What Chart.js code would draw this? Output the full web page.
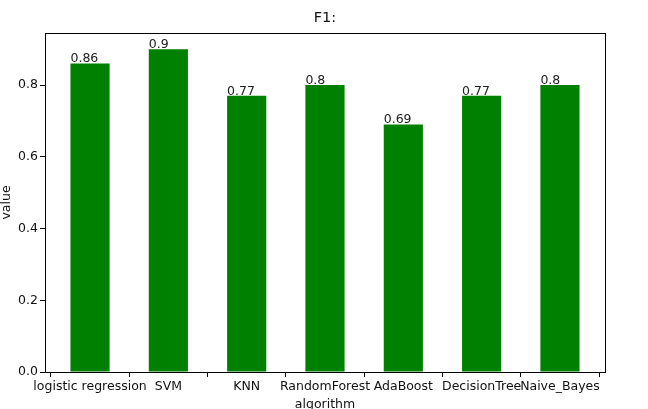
<!DOCTYPE html>
<html>
<head>
<meta charset="utf-8">
<script src="https://cdn.jsdelivr.net/npm/chart.js@4"></script>
<style>
  html, body { margin: 0; padding: 0; background: #fff; }
  #wrap { width: 648px; height: 409px; }
</style>
</head>
<body>
<div id="wrap"><canvas id="f1Chart"></canvas></div>
<script>
// Data
const algorithms = ['logistic regression', 'SVM', 'KNN', 'RandomForest', 'AdaBoost', 'DecisionTree', 'Naive_Bayes'];
const f1Scores = [0.86, 0.9, 0.77, 0.8, 0.69, 0.77, 0.8];
const yTicks = [0.0, 0.2, 0.4, 0.6, 0.8];

Chart.defaults.font.family = "'DejaVu Sans', sans-serif";
Chart.defaults.font.size = 12.5;
Chart.defaults.color = '#111';

// box around plot, value labels above bars, title and axis labels
const extras = {
  id: 'extras',
  afterDraw(chart) {
    const { ctx, chartArea: a, scales: { x, y } } = chart;
    ctx.save();
    ctx.font = "12.5px 'DejaVu Sans', sans-serif";
    ctx.fillStyle = '#222';
    ctx.textAlign = 'left';
    ctx.textBaseline = 'alphabetic';
    f1Scores.forEach((v, i) => {
      ctx.fillText(String(v), x.getPixelForValue(i - 0.25), y.getPixelForValue(v) - 1);
    });

    const L = Math.round(a.left), T = Math.round(a.top);
    const R = Math.round(a.right), B = Math.round(a.bottom);
    ctx.strokeStyle = '#000';
    ctx.lineWidth = 1;
    ctx.strokeRect(L + 0.5, T + 0.5, R - L, B - T);

    ctx.fillStyle = '#111';
    ctx.textAlign = 'center';
    ctx.textBaseline = 'middle';
    const cx = (a.left + a.right) / 2;
    ctx.font = "14.5px 'DejaVu Sans', sans-serif";
    ctx.fillText('F1:', cx, 18);
    ctx.font = "12.5px 'DejaVu Sans', sans-serif";
    ctx.fillText('algorithm', cx, 405);
    ctx.translate(7, (a.top + a.bottom) / 2);
    ctx.rotate(-Math.PI / 2);
    ctx.fillText('value', 0, 0);
    ctx.restore();
  }
};

new Chart(document.getElementById('f1Chart'), {
  type: 'bar',
  data: {
    datasets: [{
      label: 'F1',
      data: f1Scores.map((v, i) => ({ x: i, y: v })),
      backgroundColor: '#008000',
      barPercentage: 0.5,
      categoryPercentage: 1.0
    }]
  },
  options: {
    responsive: true,
    maintainAspectRatio: false,
    animation: false,
    layout: { padding: { left: 0, right: 43, top: 33, bottom: 0 } },
    plugins: {
      legend: { display: false },
      tooltip: { enabled: false },
      title: { display: false }
    },
    scales: {
      x: {
        type: 'linear',
        offset: false,
        min: -0.575,
        max: 6.575,
        afterBuildTicks(scale) {
          scale.ticks = algorithms.map((_, i) => ({ value: i }));
        },
        afterFit(scale) { scale.height = 37; },
        ticks: {
          autoSkip: false,
          maxRotation: 0,
          padding: 2,
          callback: (v) => algorithms[v]
        },
        grid: {
          display: true,
          drawOnChartArea: false,
          drawTicks: true,
          tickLength: 5,
          tickWidth: 1,
          tickColor: '#000',
          color: '#000'
        },
        border: { display: true, color: '#000' }
      },
      y: {
        min: 0,
        max: 0.945,
        afterBuildTicks(scale) {
          scale.ticks = yTicks.map(v => ({ value: v }));
        },
        afterFit(scale) { scale.width = 45; },
        ticks: {
          padding: 2,
          callback: (v) => v.toFixed(1)
        },
        grid: {
          display: true,
          drawOnChartArea: false,
          drawTicks: true,
          tickLength: 5,
          tickWidth: 1,
          tickColor: '#000',
          color: '#000'
        },
        border: { display: true, color: '#000' }
      }
    }
  },
  plugins: [extras]
});
</script>
</body>
</html>
